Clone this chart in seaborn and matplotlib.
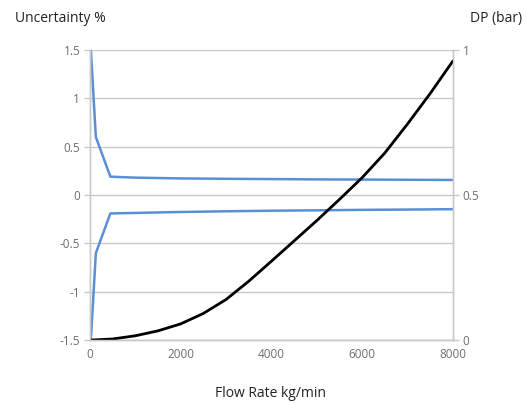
import numpy as np
import pandas as pd
import matplotlib
matplotlib.use("Agg")
import matplotlib.pyplot as plt
import seaborn as sns

# Uncertainty band (upper and lower) vs flow rate
flow_unc = [20, 130, 450, 1000, 2000, 3000, 4000, 5000, 6000, 7000, 8000]
unc_upper = [1.5, 0.6, 0.19, 0.18, 0.172, 0.168, 0.165, 0.162, 0.16, 0.158, 0.156]
unc_lower = [-1.5, -0.6, -0.19, -0.185, -0.175, -0.168, -0.162, -0.158, -0.153, -0.15, -0.146]

# Differential pressure vs flow rate
flow_dp = [0, 500, 1000, 1500, 2000, 2500, 3000, 3500, 4000, 4500, 5000,
           5500, 6000, 6500, 7000, 7500, 8000]
dp_bar = [0, 0.004, 0.015, 0.032, 0.056, 0.092, 0.14, 0.203, 0.272, 0.342, 0.412,
          0.485, 0.56, 0.645, 0.745, 0.85, 0.962]

left_ticks = [-1.5, -1, -0.5, 0, 0.5, 1, 1.5]
left_labels = ["-1.5", "-1", "-0.5", "0", "0.5", "1", "1.5"]
right_ticks = [0, 0.5, 1]
right_labels = ["0", "0.5", "1"]
x_ticks = [0, 2000, 4000, 6000, 8000]

sns.set_style("white")
plt.rcParams['font.family'] = ['Open Sans', 'DejaVu Sans']

df_unc = pd.DataFrame({"flow": flow_unc, "upper": unc_upper, "lower": unc_lower})
df_dp = pd.DataFrame({"flow": flow_dp, "dp": dp_bar})

fig = plt.figure(figsize=(5.26, 4.03), dpi=100)
ax = fig.add_axes([0.171, 0.156, 0.69, 0.72])

blue = "#5b8fd4"
grid_c = "#c8c8c8"
tick_c = "#6e6e6e"

for y in left_ticks:
    ax.axhline(y, color=grid_c, lw=1.0, zorder=0)

sns.lineplot(data=df_unc, x="flow", y="upper", ax=ax, color=blue, lw=1.8)
sns.lineplot(data=df_unc, x="flow", y="lower", ax=ax, color=blue, lw=1.8)

ax.set_xlim(0, 8000)
ax.set_ylim(-1.5, 1.5)
ax.set_yticks(left_ticks)
ax.set_yticklabels(left_labels)
ax.set_xticks(x_ticks)
ax.set_xlabel("")
ax.set_ylabel("")

ax2 = ax.twinx()
sns.lineplot(data=df_dp, x="flow", y="dp", ax=ax2, color="black", lw=2.0)
ax2.set_ylim(0, 1)
ax2.set_yticks(right_ticks)
ax2.set_yticklabels(right_labels)
ax2.set_ylabel("")

for a in (ax, ax2):
    for s in a.spines.values():
        s.set_color(grid_c)
        s.set_linewidth(1.0)
    a.spines["top"].set_visible(False)
    a.tick_params(colors=tick_c, labelsize=8.5, length=4, width=1.0,
                  direction="out", pad=3)
    a.tick_params(axis="both", color=grid_c)
    for lab in a.get_xticklabels() + a.get_yticklabels():
        lab.set_color(tick_c)

ax.tick_params(axis="x", length=3)

fig.text(0.028, 0.955, "Uncertainty %", fontsize=10, color="#222222",
         ha="left", va="center")
fig.text(0.993, 0.955, "DP (bar)", fontsize=10, color="#222222",
         ha="right", va="center")
fig.text(0.515, 0.024, "Flow Rate kg/min", fontsize=10, color="#222222",
         ha="center", va="center")

fig.savefig("out.png", dpi=100)
